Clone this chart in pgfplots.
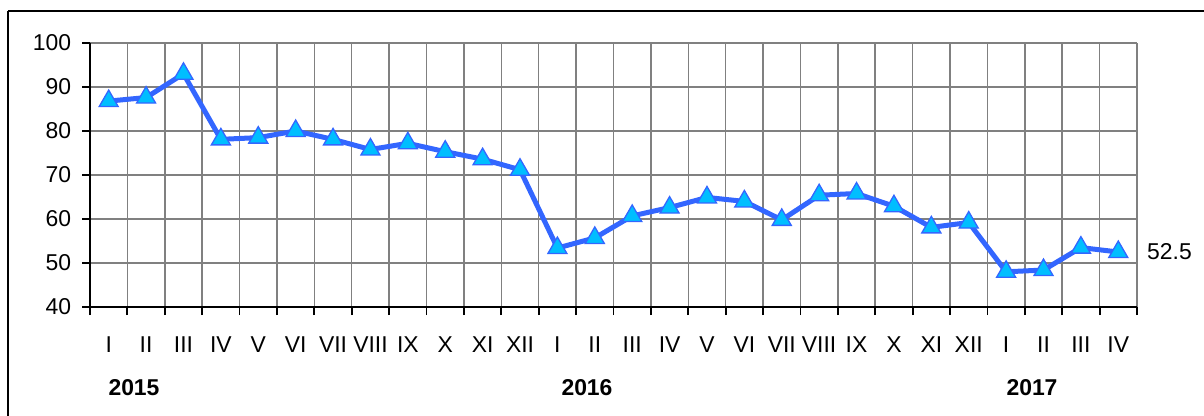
\documentclass[border=0pt]{standalone}
\usepackage{pgfplots}
\pgfplotsset{compat=1.18}
\usepackage{fontspec}
\setmainfont{Liberation Sans}
\definecolor{lineblue}{RGB}{51,102,255}
\definecolor{markcyan}{RGB}{0,190,255}
\definecolor{gridgray}{RGB}{128,128,128}
\begin{document}
\fontsize{23}{27}\selectfont
\begin{tikzpicture}[x=1bp,y=1bp]
\useasboundingbox (0,0) rectangle (1204,415);
\draw[line width=2.2bp] (8,404) -- (1220,404);
\draw[line width=2.2bp] (8,404) -- (8,-10);
\begin{axis}[
  at={(90bp,108bp)}, anchor=south west,
  scale only axis, width=1047bp, height=264bp,
  xmin=0, xmax=28, ymin=40, ymax=100,
  ytick={40,50,...,100},
  xtick={0.5,1.5,...,27.5},
  xticklabels={I,II,III,IV,V,VI,VII,VIII,IX,X,XI,XII,I,II,III,IV,V,VI,VII,VIII,IX,X,XI,XII,I,II,III,IV},
  minor xtick={0,1,...,28},
  major x tick style={draw=none},
  minor x tick style={black, line width=1.8bp},
  y tick style={black, line width=1.8bp},
  tick align=outside,
  major tick length=8bp, minor tick length=8bp,
  xtick pos=left, ytick pos=left,
  ymajorgrids, xminorgrids,
  grid style={gridgray, line width=1.5bp},
  minor grid style={gridgray, line width=1.5bp},
  axis line style={draw=none},
  /pgf/number format/assume math mode=true,
  ticklabel style={font=\fontsize{23}{27}\selectfont},
  yticklabel style={anchor=east, xshift=-3bp},
  xticklabel style={anchor=north, yshift=-14bp},
  clip=false,
]
\addplot[lineblue, line width=5bp, mark=triangle*, mark size=11bp,
  mark options={fill=markcyan, draw=lineblue, line width=1.3bp}]
  coordinates {
  (0.5,86.8) (1.5,87.6) (2.5,93.0) (3.5,78.1) (4.5,78.5) (5.5,80.0)
  (6.5,78.1) (7.5,75.8) (8.5,77.2) (9.5,75.3) (10.5,73.6) (11.5,71.2)
  (12.5,53.4) (13.5,55.7) (14.5,60.7) (15.5,62.6) (16.5,64.9) (17.5,64.0)
  (18.5,59.8) (19.5,65.4) (20.5,65.8) (21.5,62.9) (22.5,58.1) (23.5,59.2)
  (24.5,48.0) (25.5,48.4) (26.5,53.5) (27.5,52.5)
  };
\draw[black, line width=2bp] (axis cs:0,40) -- (axis cs:28,40);
\draw[black, line width=2bp] (axis cs:0,40) -- (axis cs:0,100);
\node[anchor=west, inner sep=0pt] at (axis cs:28,52.5) [xshift=10bp] {52.5};
\end{axis}
\node[font=\bfseries] at (134,27) {2015};
\node[font=\bfseries] at (587,27) {2016};
\node[font=\bfseries] at (1032,27) {2017};
\end{tikzpicture}
\end{document}
